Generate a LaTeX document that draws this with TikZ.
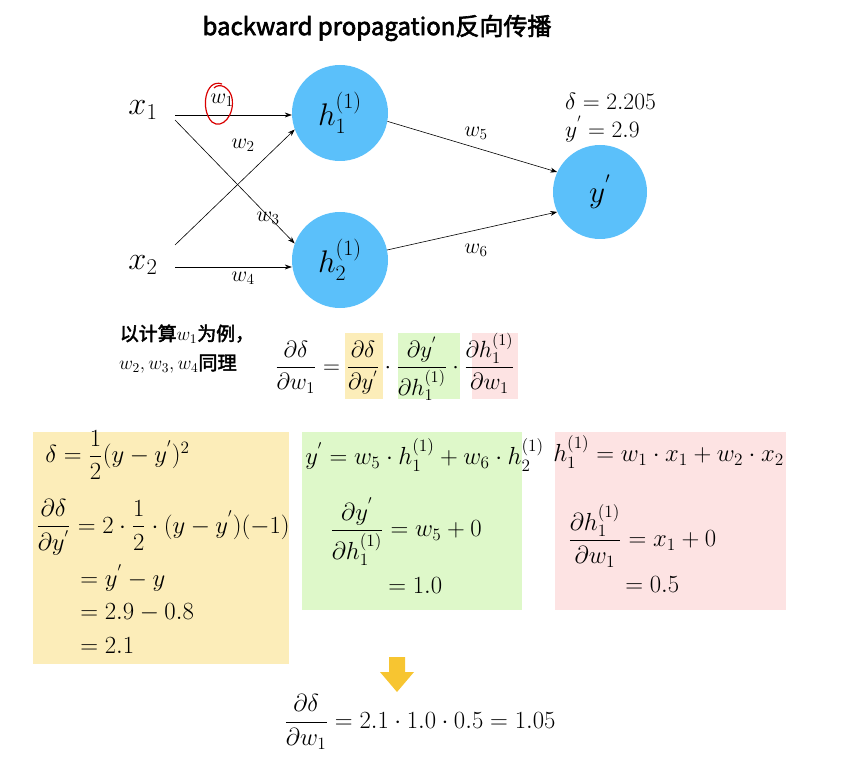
\RequirePackage{fix-cm}
\documentclass[tikz,border=0pt]{standalone}
\usepackage{amsmath}
\usepackage{graphicx}
\usepackage{fontspec}
\newfontfamily\cjk{Noto Sans CJK SC}[AutoFakeBold=2.5]
\usetikzlibrary{arrows.meta}
\definecolor{nblue}{HTML}{5BC0FA}
\definecolor{pyel}{HTML}{FCEDB9}
\definecolor{pgrn}{HTML}{DEF8C9}
\definecolor{ppnk}{HTML}{FDE3E3}
\definecolor{agold}{HTML}{F7C531}
\begin{document}
\begin{tikzpicture}[x=1pt,y=-1pt,
  neuron/.style={circle,fill=nblue,minimum size=96pt,inner sep=0pt,font=\fontsize{25}{28}\selectfont},
  conn/.style={-{Stealth[length=7pt,width=5pt]},line width=0.6pt},
  lbl/.style={font=\fontsize{19}{20}\selectfont,inner sep=1pt,scale=1.15,transform shape},
  mth/.style={font=\fontsize{19}{22}\selectfont,inner sep=0pt,scale=1.3,transform shape},
  panel/.style={inner sep=0pt,draw=none}]
\useasboundingbox (0,0) rectangle (849,762);
\node[font=\cjk\bfseries\fontsize{24}{28}\selectfont] (title) at (377,28) {backward propagation反向传播};
\node[neuron] (h1) at (340,113) {\scalebox{1.25}{$h_1^{(1)}$}};
\node[neuron] (h2) at (340,260) {\scalebox{1.25}{$h_2^{(1)}$}};
\node[neuron,minimum size=94pt] (y) at (600,192) {\scalebox{1.25}{$y^{'}$}};
\node[font=\fontsize{27}{30}\selectfont,scale=1.2,transform shape] (x1) at (143,110) {$x_1$};
\node[font=\fontsize{27}{30}\selectfont,scale=1.2,transform shape] (x2) at (143,265) {$x_2$};
\coordinate (a1) at (175,115); \coordinate (a2) at (175,120);
\coordinate (b1) at (175,245); \coordinate (b2) at (175,267);
\draw[conn] (a1) -- (h1.west |- a1);
\draw[conn] (a2) -- (h2.160);
\draw[conn] (b1) -- (h1.200);
\draw[conn] (b2) -- (h2.west |- b2);
\draw[conn] (h1.-10) -- (y.155);
\draw[conn] (h2.12) -- (y.205);
\node[lbl] (w1) at (222,100) {$w_1$};
\node[lbl] (w2) at (243,145) {$w_2$};
\node[lbl] (w3) at (268,218) {$w_3$};
\node[lbl] (w4) at (243,278) {$w_4$};
\node[lbl] (w5) at (476,133) {$w_5$};
\node[lbl] (w6) at (476,250) {$w_6$};
\draw[red!85!black,line width=1.2pt] (222,84) .. controls (205,78) and (200,110) .. (212,122) .. controls (222,130) and (235,115) .. (232,98) .. controls (230,88) and (220,82) .. (214,88);
\node[font=\fontsize{21}{24}\selectfont,anchor=west,inner sep=0pt,scale=1.12,transform shape] (dl) at (565,101) {$\delta = 2.205$};
\node[font=\fontsize{21}{24}\selectfont,anchor=west,inner sep=0pt,scale=1.12,transform shape] (yl) at (565,129) {$y^{'} = 2.9$};
% example text
\node[font=\cjk\bfseries\fontsize{14}{16}\selectfont,inner sep=0pt,scale=1.35,transform shape] (ex1) at (187,334) {以计算$w_1$为例，};
\node[font=\fontsize{16}{18}\selectfont,inner sep=0pt,scale=1.2,transform shape] (ex2) at (178,364) {$w_2, w_3, w_4$\cjk\bfseries 同理};
% highlight boxes
\fill[pyel] (345,333) rectangle (383,399);
\fill[pgrn] (398,333) rectangle (460,399);
\fill[ppnk] (472,333) rectangle (518,399);
\node[mth,scale=0.95] (main) at (395,367) {$\dfrac{\partial\delta}{\partial w_1} = \dfrac{\partial\delta}{\partial y^{'}}\cdot\dfrac{\partial y^{'}}{\partial h_1^{(1)}}\cdot\dfrac{\partial h_1^{(1)}}{\partial w_1}$};
% panels
\fill[pyel] (33,432) rectangle (289,664);
\fill[pgrn] (302,432) rectangle (522,610);
\fill[ppnk] (555,432) rectangle (786,610);
\node[mth,anchor=west] (p1a) at (45,455) {$\delta = \dfrac{1}{2}(y-y^{'})^2$};
\node[mth,anchor=west] (p1b) at (36,527) {$\dfrac{\partial\delta}{\partial y^{'}} = 2\cdot\dfrac{1}{2}\cdot(y-y^{'})(-1)$};
\node[mth,anchor=west] (p1c) at (80,578) {$= y^{'}-y$};
\node[mth,anchor=west] (p1d) at (80,613) {$= 2.9-0.8$};
\node[mth,anchor=west] (p1e) at (80,646) {$= 2.1$};
\node[mth,anchor=west] (p2a) at (305,455) {$y^{'} = w_5\cdot h_1^{(1)} + w_6\cdot h_2^{(1)}$};
\node[mth,anchor=west] (p2b) at (330,532) {$\dfrac{\partial y^{'}}{\partial h_1^{(1)}} = w_5+0$};
\node[mth,anchor=west] (p2c) at (388,586) {$= 1.0$};
\node[mth,anchor=west] (p3a) at (553,452) {$h_1^{(1)} = w_1\cdot x_1 + w_2\cdot x_2$};
\node[mth,anchor=west] (p3b) at (568,536) {$\dfrac{\partial h_1^{(1)}}{\partial w_1} = x_1+0$};
\node[mth,anchor=west] (p3c) at (625,585) {$= 0.5$};
% down arrow
\fill[agold] (389,657) -- (405,657) -- (405,672) -- (414,672) -- (397,692) -- (380,672) -- (389,672) -- cycle;
\node[mth] (final) at (420,722) {$\dfrac{\partial\delta}{\partial w_1} = 2.1\cdot 1.0\cdot 0.5 = 1.05$};
\end{tikzpicture}
\end{document}
